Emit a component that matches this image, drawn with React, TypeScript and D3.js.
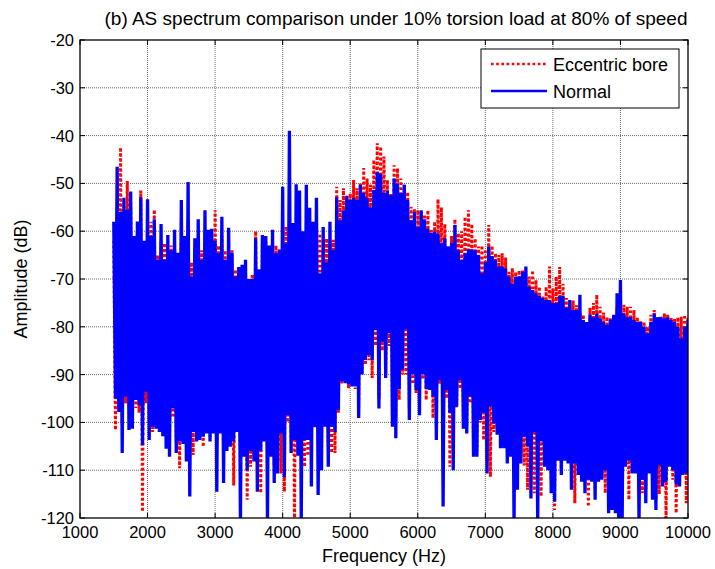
import React from "react";
import * as d3 from "d3";

// Spectrum bins: 1500 Hz to 10000 Hz, 50 Hz apart; each bin holds a peak (upper) and a trough (lower) value in dB
const freqStartHz = 1500;
const freqStepHz = 50;

const normalHigh = [
  -58, -46.5, -56, -53, -55.5, -51.7, -61, -58, -52.9, -62,
  -53.3, -61, -57.5, -66, -58.5, -66, -60.8, -64, -59.7, -64.5,
  -53.5, -61, -49.7, -69.5, -61.5, -57.5, -66, -55.6, -59.7, -59.5,
  -62, -64.6, -57, -66, -59.3, -64.5, -69.5, -67.5, -67, -66,
  -70, -70, -61.5, -68, -60.8, -61, -63, -59.7, -64.6, -64,
  -50.7, -62.5, -39, -58.3, -50.2, -51.5, -60, -50.3, -55.1, -58,
  -53, -68.8, -59.1, -66.5, -58, -64, -52.9, -57.7, -55.6, -52.6,
  -53.5, -53, -53.5, -50.3, -52, -53, -55, -51.4, -47.6, -48,
  -52, -51.5, -52.5, -49, -50, -52, -50.3, -53.5, -57.7, -56,
  -59.1, -55.6, -57.5, -59.5, -60.4, -60, -60.5, -62.5, -61.5, -63.2,
  -62.5, -58.7, -64, -66, -64.6, -63.8, -63.8, -64, -65, -68.8,
  -66.5, -63.2, -65.2, -66, -67.4, -67.4, -67.8, -69.5, -71, -69.5,
  -69.5, -68.5, -67.4, -71.6, -72.3, -73, -73.5, -74, -74.4, -74.4,
  -75, -75, -73.6, -73.5, -76, -74.4, -76.5, -76.5, -73.3, -78.6,
  -79, -77.5, -78, -77.2, -78.2, -79, -79.6, -78.5, -77.5, -73,
  -70.2, -77.2, -78, -77.9, -78.6, -79, -79, -80, -81.4, -79,
  -77.2, -78, -77.9, -78.2, -78, -78.6, -79, -80, -82.4, -80,
  -78.6,
];

const normalLow = [
  -95, -97.8, -106.4, -94.6, -101.6, -101.3, -95.3, -96.4, -104.7, -93.6,
  -103.7, -100.9, -101.3, -102, -102.9, -105.5, -107.2, -97.1, -106.4, -104,
  -104.5, -108.2, -115.5, -102, -104, -103.7, -103, -102.3, -104, -102.3,
  -114.5, -102.3, -112.7, -106, -105.1, -104, -102, -121, -107.2, -110,
  -106, -108.2, -114.5, -106, -104, -121, -107.2, -112.7, -110.7, -102.3,
  -111.4, -98.5, -106.4, -103.7, -107, -121, -103.7, -103.7, -113.4, -100.9,
  -115.2, -110, -100.9, -109.3, -100.9, -102, -97.4, -91.4, -91.8, -92.1,
  -92.5, -92.5, -99.1, -90, -87, -85.9, -87, -80.7, -97.1, -83.1,
  -90.7, -81.4, -100.9, -103.3, -93, -89, -80.5, -99.5, -90, -93.2,
  -98.5, -90, -93, -93.2, -94.6, -103.7, -91.1, -117.6, -93.2, -98,
  -110, -96.7, -91.1, -101.3, -102.3, -94.6, -107.2, -107.2, -99.5, -98,
  -110.7, -96.7, -100.2, -102.6, -105.4, -105.4, -108.6, -107.2, -121, -114.1,
  -108.6, -103, -105, -115.9, -102, -121, -104, -109.3, -110, -114.8,
  -116.6, -108, -111, -108, -108.6, -114.1, -108.6, -111, -112.4, -114.8,
  -112, -112.4, -116.2, -112.4, -112, -110, -119, -118.3, -119, -121,
  -121, -109.3, -108, -110.7, -110.7, -121, -112, -116.9, -110.7, -116.2,
  -118.3, -109, -113.4, -112.4, -109.3, -110, -113, -113.4, -111, -110.7,
  -110.7,
];

const eccentricHigh = [
  -62, -55, -42.5, -57, -49.5, -54, -62, -60, -51.5, -63,
  -60, -58, -55.5, -65, -62, -62.5, -64, -63, -63, -66,
  -58, -63, -58, -66.5, -63, -62, -64, -60, -60, -62,
  -55.6, -63, -61, -64, -62, -64, -68, -69, -68, -67,
  -71, -69, -60, -68, -62, -62, -64, -62, -63, -63.8,
  -60, -59, -62, -62, -60, -60, -62, -60, -60, -62,
  -60, -60.5, -64, -61.5, -62, -61.8, -50.7, -53.5, -51, -53,
  -52.1, -49.3, -51, -50, -46.8, -49, -50.3, -45.1, -41.6, -42.3,
  -44.4, -49.3, -52, -46.2, -46.8, -49, -50.3, -51.8, -54.9, -55.3,
  -55.6, -56, -56.5, -55.6, -59.5, -58, -53.3, -55, -58.5, -63.2,
  -61, -57.5, -60.4, -60, -57, -55.6, -58.5, -61.5, -63.2, -63,
  -63.8, -58.7, -63, -64.6, -65, -64.6, -65.5, -68.5, -67.7, -68.5,
  -68.2, -68.2, -69, -69.5, -68.2, -70.2, -71.6, -73.5, -71.6, -67.4,
  -72, -69.5, -67.5, -71, -74, -75.4, -74.5, -75.5, -77.2, -77.5,
  -79.3, -76, -75, -73.3, -75.8, -77, -77.9, -78.2, -78, -76,
  -71.6, -75.4, -75.8, -75.8, -76.5, -78, -78.6, -79, -80, -77.5,
  -76.5, -78, -78.6, -77.2, -77.5, -78, -78.2, -78, -77.9, -77.5,
  -77.9,
];

const eccentricLow = [
  -101.6, -97, -100, -96, -96, -95, -97, -98, -118.7, -96,
  -100, -102, -99, -101, -100, -102, -104, -99, -104, -109.6,
  -103, -105, -104, -106.8, -102, -102, -105.1, -101, -103, -101,
  -104, -100, -104, -104, -104, -113.2, -101, -106, -105, -116.2,
  -109.3, -107, -108, -114.8, -103, -107, -106, -109, -108.5, -110.7,
  -114.5, -100, -104, -121, -104, -105, -109.3, -107, -106, -101,
  -105, -106, -100, -105, -106.4, -106.4, -98, -92, -89.4, -93,
  -91.8, -93, -97, -89.7, -88, -87, -90.7, -84, -95, -85,
  -90, -84, -98, -99, -95.3, -90, -90, -97, -92, -94,
  -97, -91, -95.3, -92, -99.1, -101, -92, -108, -95, -109.3,
  -106, -97, -93, -100, -101, -96, -105, -106, -100, -103.7,
  -108, -111.4, -102, -101, -104, -104, -106, -106, -110, -112.4,
  -107, -109, -114.1, -110, -114.8, -110, -115.5, -108, -109, -112,
  -118.3, -106.4, -110, -108, -107, -110, -116.9, -109, -111, -112,
  -117.6, -111, -114, -111, -111, -114.8, -115, -116, -117, -118,
  -118, -108, -116.2, -110, -110, -115, -114.8, -114, -110, -114,
  -116, -115, -112, -121, -108, -112, -119, -112, -110, -116.9,
  -110,
];

const xTicks = [1000, 2000, 3000, 4000, 5000, 6000, 7000, 8000, 9000, 10000];
const yTicks = [-20, -30, -40, -50, -60, -70, -80, -90, -100, -110, -120];

const titleText = "(b) AS spectrum comparison under 10% torsion load at 80% of speed";
const xLabel = "Frequency (Hz)";
const yLabel = "Amplitude (dB)";
const seriesNames = ["Eccentric bore", "Normal"];

const W = 715;
const H = 569;
const plot = { left: 80, right: 688, top: 40, bottom: 518 };
const FONT = "'Liberation Sans', Arial, Helvetica, sans-serif";

type Pt = [number, number];

function zigzag(high: number[], low: number[]): Pt[] {
  const pts: Pt[] = [];
  high.forEach((h, i) => {
    const f = freqStartHz + i * freqStepHz;
    pts.push([f, h]);
    pts.push([f + freqStepHz / 2, low[i]]);
  });
  return pts;
}

export default function App() {
  const x = d3.scaleLinear().domain([1000, 10000]).range([plot.left, plot.right]);
  const y = d3.scaleLinear().domain([-120, -20]).range([plot.bottom, plot.top]);
  const line = d3
    .line<Pt>()
    .x((d) => x(d[0]))
    .y((d) => y(d[1]));

  const redPath = line(zigzag(eccentricHigh, eccentricLow)) || "";
  const bluePath = line(zigzag(normalHigh, normalLow)) || "";

  const tickLen = 5;
  const lg = { x0: 481, y0: 49, x1: 679, y1: 108 };

  return (
    <svg
      width={W}
      height={H}
      style={{ position: "absolute", left: 0, top: 0, background: "#fff" }}
      fontFamily={FONT}
    >
      <rect x={0} y={0} width={W} height={H} fill="#fff" />
      <defs>
        <clipPath id="plotclip">
          <rect x={plot.left} y={plot.top} width={plot.right - plot.left} height={plot.bottom - plot.top} />
        </clipPath>
      </defs>

      {/* grid */}
      <g stroke="#6a6a6a" strokeWidth={1} strokeDasharray="1 1">
        {xTicks.slice(1, -1).map((t) => (
          <line key={"gx" + t} x1={x(t)} x2={x(t)} y1={plot.top} y2={plot.bottom} />
        ))}
        {yTicks.slice(1, -1).map((t) => (
          <line key={"gy" + t} x1={plot.left} x2={plot.right} y1={y(t)} y2={y(t)} />
        ))}
      </g>

      {/* ticks */}
      <g stroke="#000" strokeWidth={1}>
        {xTicks.map((t) => (
          <g key={"tx" + t}>
            <line x1={x(t)} x2={x(t)} y1={plot.bottom} y2={plot.bottom - tickLen} />
            <line x1={x(t)} x2={x(t)} y1={plot.top} y2={plot.top + tickLen} />
          </g>
        ))}
        {yTicks.map((t) => (
          <g key={"ty" + t}>
            <line x1={plot.left} x2={plot.left + tickLen} y1={y(t)} y2={y(t)} />
            <line x1={plot.right} x2={plot.right - tickLen} y1={y(t)} y2={y(t)} />
          </g>
        ))}
      </g>

      {/* data */}
      <g clipPath="url(#plotclip)">
        <path
          d={redPath}
          fill="none"
          stroke="#ff0000"
          strokeWidth={3}
          strokeDasharray="2.6 2.4"
          strokeLinejoin="bevel"
        />
        <path d={bluePath} fill="none" stroke="#0000ff" strokeWidth={3.3} strokeLinejoin="bevel" />
      </g>

      {/* axes box */}
      <rect
        x={plot.left}
        y={plot.top}
        width={plot.right - plot.left}
        height={plot.bottom - plot.top}
        fill="none"
        stroke="#000"
        strokeWidth={1.3}
      />

      {/* tick labels */}
      <g fontSize={16.5} fill="#000">
        {xTicks.map((t) => (
          <text key={"lx" + t} x={x(t)} y={538} textAnchor="middle">
            {t}
          </text>
        ))}
        {yTicks.map((t) => (
          <text key={"ly" + t} x={plot.left - 6} y={y(t) + 6} textAnchor="end">
            {t}
          </text>
        ))}
      </g>

      {/* labels */}
      <text x={(plot.left + plot.right) / 2} y={562} textAnchor="middle" fontSize={18}>
        {xLabel}
      </text>
      <text
        transform={`translate(27, ${(plot.top + plot.bottom) / 2}) rotate(-90)`}
        textAnchor="middle"
        fontSize={18}
      >
        {yLabel}
      </text>
      <text x={396} y={25} textAnchor="middle" fontSize={19}>
        {titleText}
      </text>

      {/* legend */}
      <rect x={lg.x0} y={lg.y0} width={lg.x1 - lg.x0} height={lg.y1 - lg.y0} fill="#fff" stroke="#000" strokeWidth={1} />
      <line x1={491} x2={547} y1={64} y2={64} stroke="#ff0000" strokeWidth={2.4} strokeDasharray="2.6 2.6" />
      <line x1={491} x2={547} y1={91} y2={91} stroke="#0000ff" strokeWidth={2.4} />
      <text x={553} y={70.5} fontSize={18}>
        {seriesNames[0]}
      </text>
      <text x={553} y={97.5} fontSize={18}>
        {seriesNames[1]}
      </text>
    </svg>
  );
}
